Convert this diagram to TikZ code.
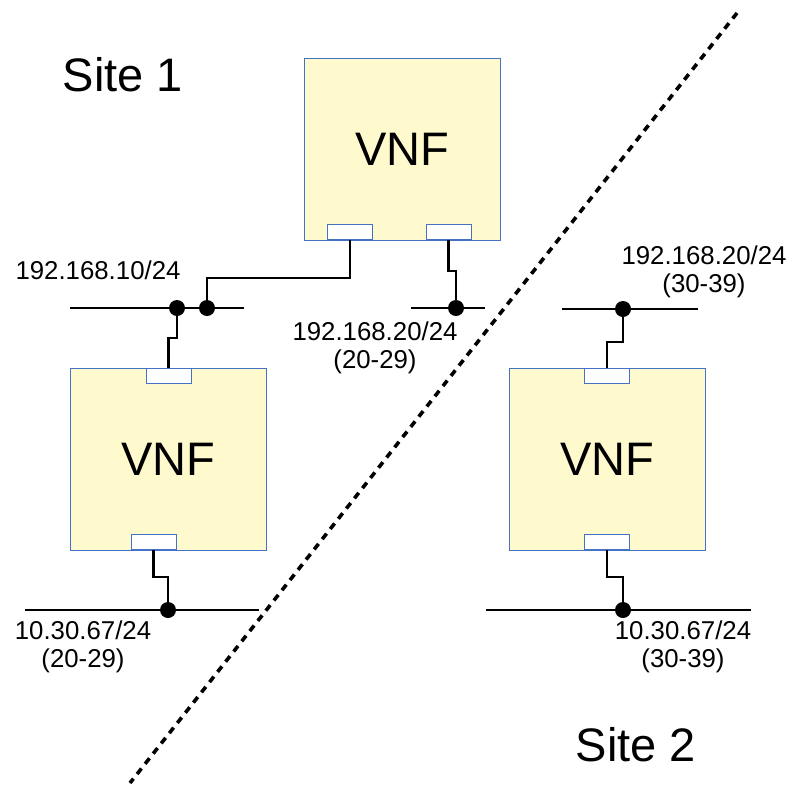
\documentclass[tikz,border=0pt]{standalone}
\usepackage{fontspec}
\setmainfont{Liberation Sans}
\usetikzlibrary{positioning,calc}
\definecolor{vnffill}{RGB}{255,250,206}
\definecolor{vnfline}{RGB}{68,114,196}

\begin{document}
\begin{tikzpicture}[x=1pt,y=-1pt,
    vnf/.style={draw=vnfline,fill=vnffill,line width=0.9pt,minimum width=196pt,
      minimum height=182pt,inner sep=0pt,font=\fontsize{47}{50}\selectfont},
    port/.style={draw=vnfline,fill=white,line width=0.9pt,minimum width=45pt,
      minimum height=15pt,inner sep=0pt},
    bus/.style={draw=black,line width=2.9pt},
    wire/.style={draw=black,line width=2.1pt},
    tap/.style={circle,fill=black,minimum size=16pt,inner sep=0pt},
    addr/.style={font=\fontsize{25.8}{28}\selectfont,align=center,inner sep=0pt},
    site/.style={font=\fontsize{47}{50}\selectfont,inner sep=0pt}
  ]
    \useasboundingbox (0,0) rectangle (795,785);
    % site border
    \coordinate (cutA) at (737,13);
    \coordinate (cutB) at (130,783);
    \draw[line width=3.6pt,dash pattern=on 7pt off 6pt] (cutA) -- (cutB);
    % networks
    \coordinate (netAw) at (70,308);   \coordinate (netAe) at (244,308);
    \coordinate (netBw) at (411,308);  \coordinate (netBe) at (485,308);
    \coordinate (netCw) at (562,309);  \coordinate (netCe) at (698,309);
    \coordinate (netDw) at (25,610);   \coordinate (netDe) at (259,610);
    \coordinate (netEw) at (486,610);  \coordinate (netEe) at (751,610);
    \draw[bus] (netAw) -- (netAe);
    \draw[bus] (netBw) -- (netBe);
    \draw[bus] (netCw) -- (netCe);
    \draw[bus] (netDw) -- (netDe);
    \draw[bus] (netEw) -- (netEe);
    % VNFs and their ports
    \node[vnf] (vnfTop) at (402,149) {VNF};
    \node[vnf] (vnfLeft) at (168.5,459) {VNF};
    \node[vnf] (vnfRight) at (607.5,459) {VNF};
    \node[port,anchor=south] (portT1) at (350,240) {};
    \node[port,anchor=south] (portT2) at (448.5,240) {};
    \node[port,anchor=north] (portL1) at (168.5,368) {};
    \node[port,anchor=south] (portL2) at (153.5,550) {};
    \node[port,anchor=north] (portR1) at (607,368) {};
    \node[port,anchor=south] (portR2) at (607,550) {};
    % taps on the networks
    \node[tap] (tapA) at (177,308) {};
    \node[tap] (tapB) at (207,308) {};
    \node[tap] (tapC) at (456,308) {};
    \node[tap] (tapD) at (623,309) {};
    \node[tap] (tapE) at (168,610) {};
    \node[tap] (tapF) at (623,610) {};
    \draw[wire] (portT1.south) -- ++(0,38) -| (tapB.center);
    \draw[wire] (portT2.south) -- ++(0,31) -| (tapC.center);
    \draw[wire] (tapA.center) -- ++(0,30) -| (portL1.north);
    \draw[wire] (portL2.south) -- ++(0,27) -| (tapE.center);
    \draw[wire] (tapD.center) -- ++(0,33) -| (portR1.north);
    \draw[wire] (portR2.south) -- ++(0,27) -| (tapF.center);
    % labels
    \node[site] (site1) at (123,75) {Site 1};
    \node[site] (site2) at (636,745) {Site 2};
    \node[addr] (addrA) at (98,270) {192.168.10/24};
    \node[addr] (addrB) at (375,348) {192.168.20/24\\(20-29)};
    \node[addr] (addrC) at (704,272) {192.168.20/24\\(30-39)};
    \node[addr] (addrD) at (83,647) {10.30.67/24\\(20-29)};
    \node[addr] (addrE) at (683,647) {10.30.67/24\\(30-39)};
  \end{tikzpicture}
\end{document}
